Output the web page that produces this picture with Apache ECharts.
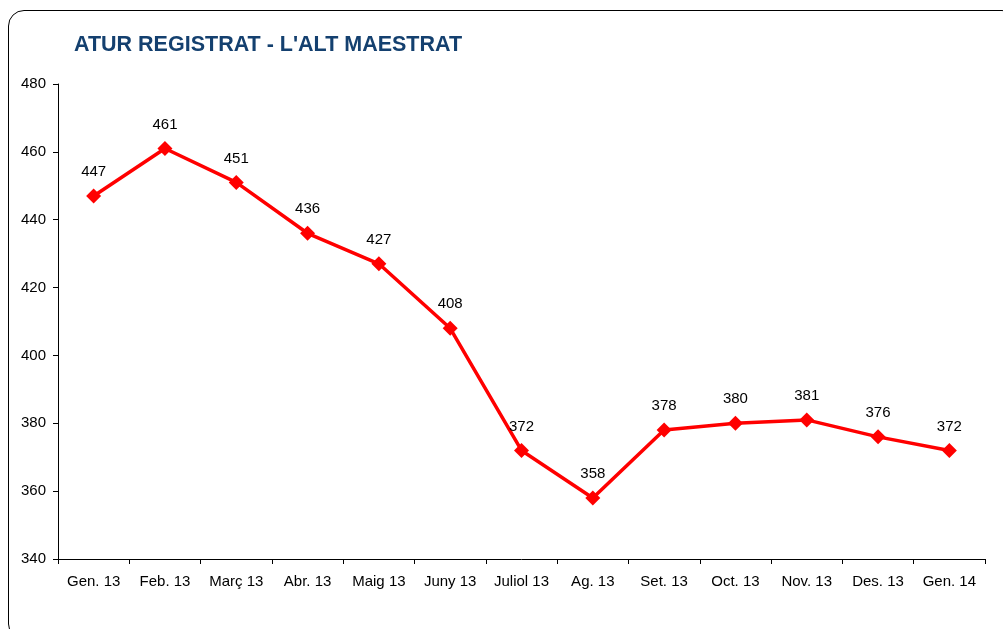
<!DOCTYPE html>
<html>
<head>
<meta charset="utf-8">
<script src="https://cdn.jsdelivr.net/npm/echarts@6/dist/echarts.min.js"></script>
<style>
  html, body { margin: 0; padding: 0; background: #fff; overflow: hidden; }
  #frame {
    position: absolute; left: 8px; top: 10px; width: 1010px; height: 630px;
    border: 1.5px solid #000; border-radius: 16px; box-sizing: border-box;
  }
  #chart { position: absolute; left: 0; top: 0; width: 1003px; height: 629px; }
</style>
</head>
<body>
<div id="frame"></div>
<div id="chart"></div>
<script>
// atur registrat - alt maestrat
var months = ['Gen. 13', 'Feb. 13', 'Març 13', 'Abr. 13', 'Maig 13', 'Juny 13', 'Juliol 13',
              'Ag. 13', 'Set. 13', 'Oct. 13', 'Nov. 13', 'Des. 13', 'Gen. 14'];
var aturValues = [447, 461, 451, 436, 427, 408, 372, 358, 378, 380, 381, 376, 372];
var yMin = 340, yMax = 480, yStep = 20;

var chart = echarts.init(document.getElementById('chart'));
var option = {
    animation: false,
    title: {
        text: "ATUR REGISTRAT - L'ALT MAESTRAT",
        left: 69, top: 29,
        textStyle: { fontFamily: 'Liberation Sans', fontSize: 21.5, fontWeight: 'bold', color: '#14406F' }
    },
    grid: { left: 58, right: 18, top: 84, bottom: 70 },
    xAxis: {
        type: 'category',
        data: months,
        boundaryGap: true,
        axisLine: { lineStyle: { color: '#000', width: 1 } },
        axisTick: { show: true, interval: 0, length: 5, lineStyle: { color: '#000' } },
        axisLabel: { interval: 0, color: '#000', fontFamily: 'Liberation Sans', fontSize: 15, margin: 15 }
    },
    yAxis: {
        type: 'value',
        min: yMin, max: yMax, interval: yStep,
        axisLine: { show: true, lineStyle: { color: '#000', width: 1 } },
        axisTick: { show: true, length: 5, lineStyle: { color: '#000' } },
        splitLine: { show: false },
        axisLabel: { color: '#000', fontFamily: 'Liberation Sans', fontSize: 15, margin: 12 }
    },
    series: [{
        type: 'line',
        data: aturValues,
        symbol: 'diamond',
        symbolSize: 15,
        lineStyle: { color: '#FF0000', width: 3.5 },
        itemStyle: { color: '#FF0000' },
        label: {
            show: true, position: 'top', distance: 9,
            color: '#000', fontFamily: 'Liberation Sans', fontSize: 15
        }
    }]
};
chart.setOption(option);
</script>
</body>
</html>
